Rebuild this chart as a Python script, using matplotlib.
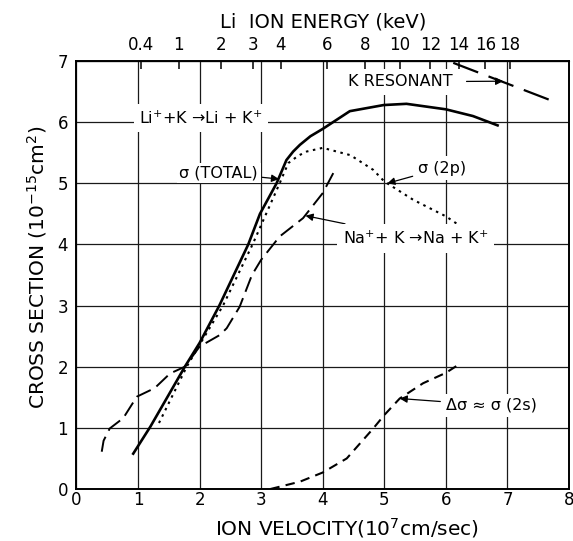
import numpy as np
import matplotlib
matplotlib.use("Agg")
import matplotlib.pyplot as plt

# ---- data ----
v_total = [0.91, 1.20, 1.76, 2.0, 2.32, 2.79, 2.98, 3.25, 3.41, 3.52, 3.63, 3.80, 4.0, 4.44, 4.99, 5.36, 6.0, 6.44, 6.86]
s_total = [0.56, 1.02, 2.0, 2.39, 3.0, 4.0, 4.5, 5.0, 5.38, 5.52, 5.63, 5.77, 5.89, 6.18, 6.28, 6.30, 6.21, 6.10, 5.94]

v_2p = [1.34, 1.79, 2.0, 2.38, 2.86, 3.30, 3.44, 3.60, 3.74, 4.0, 4.45, 4.82, 5.0, 5.47, 6.0, 6.28]
s_2p = [1.08, 2.0, 2.36, 3.0, 4.0, 5.0, 5.33, 5.45, 5.52, 5.58, 5.46, 5.22, 5.03, 4.73, 4.46, 4.27]

v_na = [0.41, 0.44, 0.54, 0.76, 0.98, 1.27, 1.52, 1.76, 2.0, 2.33, 2.44, 2.65, 2.85, 3.0, 3.30, 3.68, 4.0, 4.22]
s_na = [0.61, 0.79, 0.99, 1.16, 1.51, 1.65, 1.89, 2.0, 2.33, 2.52, 2.63, 2.98, 3.50, 3.75, 4.13, 4.43, 4.84, 5.26]

v_2s = [3.15, 3.63, 4.0, 4.39, 4.82, 5.0, 5.25, 5.63, 6.0, 6.2]
s_2s = [0.0, 0.12, 0.27, 0.50, 0.99, 1.21, 1.48, 1.73, 1.90, 2.03]

v_kres = [6.12, 7.8]
s_kres = [6.97, 6.32]

energy_ticks = [0.4, 1, 2, 3, 4, 6, 8, 10, 12, 14, 16, 18]
energy_labels = ["0.4", "1", "2", "3", "4", "6", "8", "10", "12", "14", "16", "18"]
x_ticks = [0, 1, 2, 3, 4, 5, 6, 7, 8]
y_ticks = [0, 1, 2, 3, 4, 5, 6, 7]
K_E = 0.363  # keV per (1e7 cm/s)^2 for Li ions

plt.rcParams['font.family'] = ['DejaVu Sans']

fig = plt.figure(figsize=(5.73, 5.41), dpi=100)
ax = fig.add_axes([0.1335, 0.0961, 0.8595, 0.7911])
ax.set_xlim(0, 8)
ax.set_ylim(0, 7)
ax.set_xticks(x_ticks)
ax.set_yticks(y_ticks)
ax.grid(True, color='#1a1a1a', lw=0.9)
ax.set_axisbelow(True)
for s in ax.spines.values():
    s.set_linewidth(1.4)
ax.tick_params(axis='x', length=0, pad=1.5, labelsize=12)
ax.tick_params(axis='y', length=0, pad=6, labelsize=12)

# curves
ax.plot(v_total, s_total, color='black', lw=1.9, solid_capstyle='butt', solid_joinstyle='round')
ax.plot(v_2p, s_2p, color='black', lw=1.5, linestyle=(0, (1.2, 2.2)))
ax.plot(v_na, s_na, color='black', lw=1.4, linestyle=(0, (8, 3.5)))
ax.plot(v_2s, s_2s, color='black', lw=1.5, linestyle=(0, (4.5, 3)))
ax.plot(v_kres, s_kres, color='black', lw=1.6, linestyle=(0, (12, 5)))

# top energy axis
sec = ax.secondary_xaxis('top', functions=(lambda v: K_E * np.asarray(v) ** 2,
                                           lambda e: np.sqrt(np.clip(np.asarray(e), 0, None) / K_E)))
sec.set_xticks(energy_ticks)
sec.set_xticklabels(energy_labels)
sec.tick_params(direction='in', length=6, width=1.1, pad=5, labelsize=12)
sec.set_xlabel("Li  ION ENERGY (keV)", fontsize=14, labelpad=6)

# axis labels
fig.text(347.5 / 573, 1 - 528 / 541, "ION VELOCITY(10$^{7}$cm/sec)", fontsize=14.5,
         ha='center', va='center')
fig.text(37 / 573, 1 - 267.5 / 541, "CROSS SECTION (10$^{-15}$cm$^{2}$)", fontsize=14.5,
         ha='center', va='center', rotation=90)

box = dict(facecolor='white', edgecolor='none', pad=4)
arrow = dict(arrowstyle='-|>', color='black', lw=0.9, mutation_scale=11, shrinkA=1, shrinkB=0)

ax.text(2.02, 6.07, "Li$^{+}$+K \u2192Li + K$^{+}$", fontsize=11.5, ha='center', va='center', bbox=box)
ax.annotate("\u03c3 (TOTAL)", xy=(3.29, 5.07), xytext=(2.95, 5.17), fontsize=11.5,
            ha='right', va='center', bbox=dict(facecolor='white', edgecolor='none', pad=2),
            arrowprops=arrow)
ax.annotate("K RESONANT", xy=(6.93, 6.67), xytext=(4.41, 6.66), fontsize=11.5,
            ha='left', va='center', bbox=box,
            arrowprops=dict(arrowstyle='-|>', color='black', lw=0.9, mutation_scale=11,
                            shrinkA=6, shrinkB=0))
ax.annotate("\u03c3 (2p)", xy=(5.05, 5.0), xytext=(5.55, 5.25), fontsize=11.5,
            ha='left', va='center', bbox=dict(facecolor='white', edgecolor='none', pad=3),
            arrowprops=arrow)
ax.annotate("Na$^{+}$+ K \u2192Na + K$^{+}$", xy=(3.72, 4.47), xytext=(4.33, 4.10), fontsize=11.5,
            ha='left', va='center', bbox=box, arrowprops=arrow)
ax.annotate("\u0394\u03c3 \u2248 \u03c3 (2s)", xy=(5.25, 1.48), xytext=(6.0, 1.37), fontsize=11.5,
            ha='left', va='center', bbox=dict(facecolor='white', edgecolor='none', pad=3),
            arrowprops=arrow)

fig.savefig("out.png", dpi=100)
